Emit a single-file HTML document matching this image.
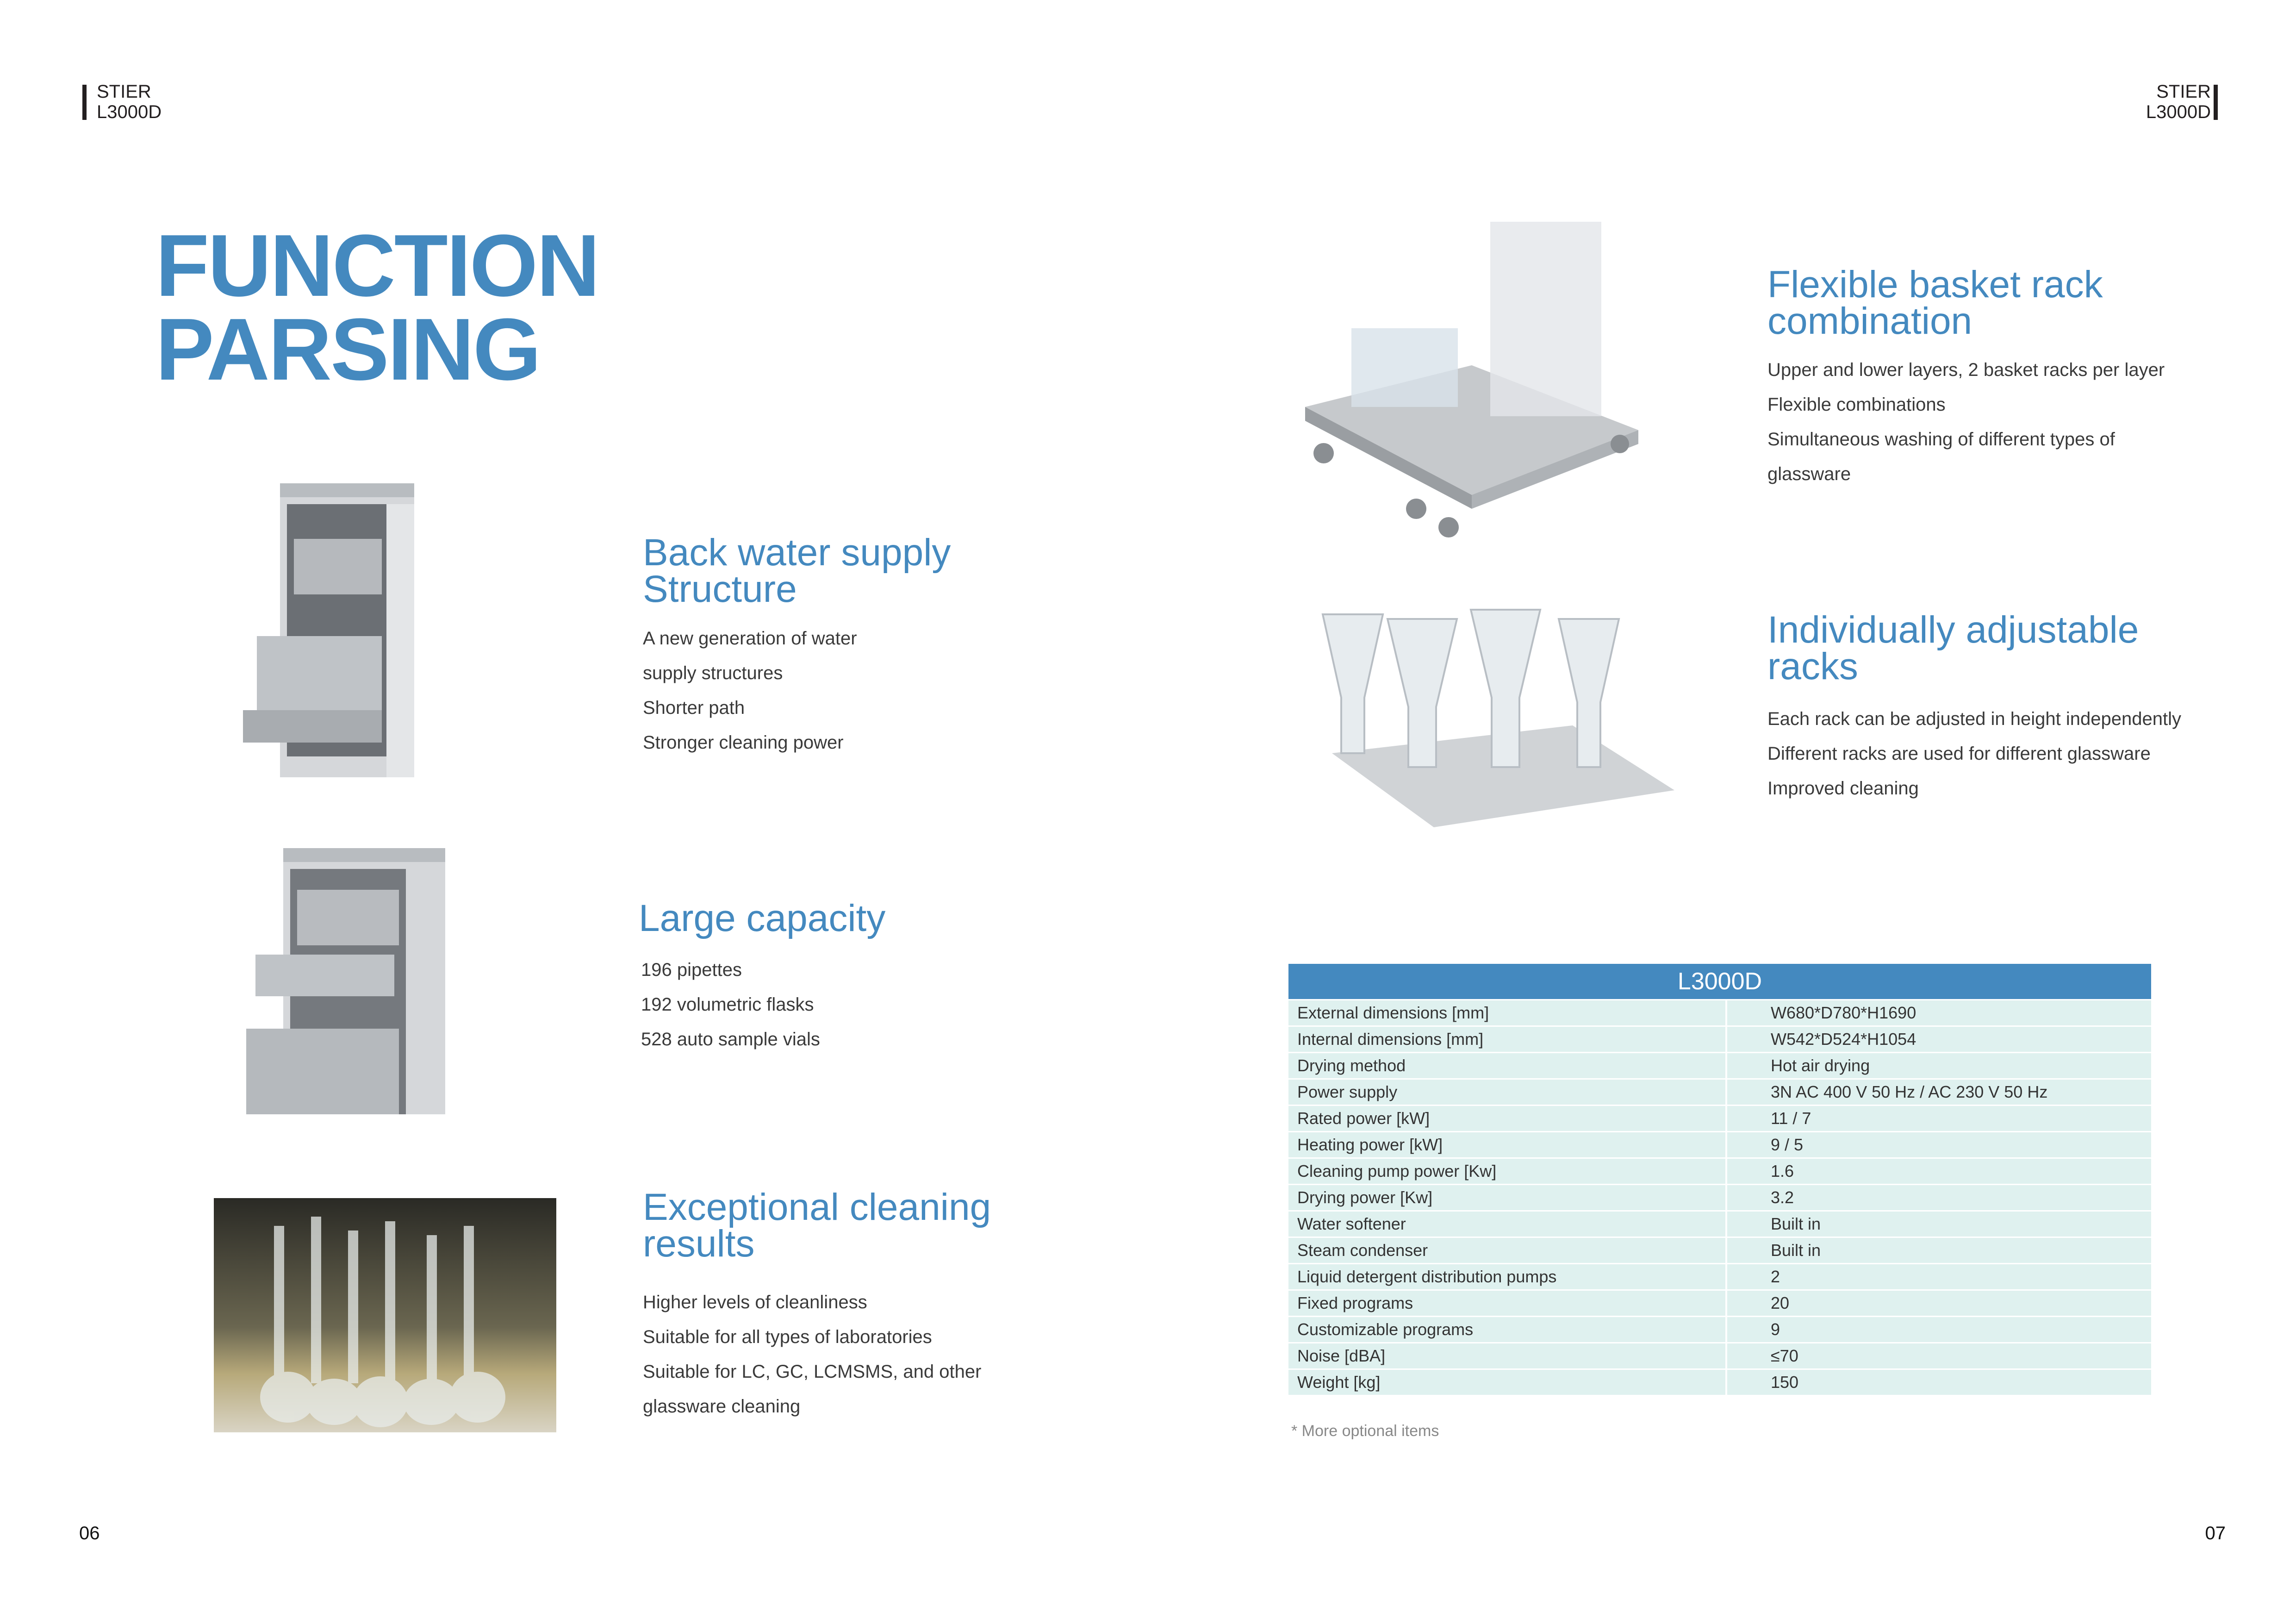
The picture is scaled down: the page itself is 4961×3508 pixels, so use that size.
<!DOCTYPE html>
<html><head><meta charset="utf-8">
<style>
html,body{margin:0;padding:0;background:#fff}
#p{position:relative;width:4961px;height:3508px;overflow:hidden;background:#fff;font-family:"Liberation Sans",sans-serif;color:#333}
.t{position:absolute;white-space:nowrap}
.h{color:#4489bf;font-size:82px;line-height:79px;letter-spacing:0px}
.b{font-size:40px;line-height:75px;color:#3a3a3a}
.big{position:absolute;left:336px;color:#4489bf;font-weight:bold;font-size:190px;line-height:180px;letter-spacing:-3px}
table{position:absolute;left:2784px;top:2082px;width:1864px;border-collapse:collapse;font-size:36px;color:#333;table-layout:fixed}
th{background:#4489bf;color:#fff;font-weight:normal;font-size:52px;height:76px;padding:0}
td{background:#dff1ef;height:54px;padding:0 0 0 19px;border-top:3.6px solid #fff}
td+td{border-left:4px solid #fff;padding-left:94px}
</style></head><body><div id="p">
<div style="position:absolute;left:178px;top:183px;width:9px;height:76px;background:#231f20"></div>
<div class="t" style="left:209px;top:176px;font-size:40px;line-height:44px;color:#231f20">STIER<br>L3000D</div>
<div style="position:absolute;left:4783px;top:183px;width:9px;height:76px;background:#231f20"></div>
<div class="t" style="right:184px;top:176px;font-size:40px;line-height:44px;color:#231f20;text-align:right">STIER<br>L3000D</div>

<div class="big" style="top:484px">FUNCTION</div>
<div class="big" style="top:665px">PARSING</div>

<svg style="position:absolute;left:525px;top:1044px" width="450" height="635" viewBox="0 0 450 635">
<rect x="80" y="0" width="290" height="635" fill="#d5d7da"/>
<rect x="80" y="0" width="290" height="30" fill="#b8bcc0"/>
<rect x="95" y="45" width="215" height="545" fill="#6b6f74"/>
<rect x="110" y="120" width="190" height="120" fill="#c9ccd0" opacity=".8"/>
<rect x="30" y="330" width="270" height="160" fill="#bfc3c7"/>
<rect x="0" y="490" width="300" height="70" fill="#a8acb0"/>
<rect x="310" y="45" width="60" height="590" fill="#e4e6e8"/>
</svg>
<svg style="position:absolute;left:532px;top:1832px" width="430" height="575" viewBox="0 0 430 575">
<rect x="80" y="0" width="350" height="575" fill="#d5d7da"/>
<rect x="80" y="0" width="350" height="30" fill="#b8bcc0"/>
<rect x="95" y="45" width="250" height="530" fill="#75797e"/>
<rect x="110" y="90" width="220" height="120" fill="#c9ccd0" opacity=".8"/>
<rect x="20" y="230" width="300" height="90" fill="#bfc3c7"/>
<rect x="0" y="390" width="330" height="185" fill="#b5b9bd"/>
</svg>
<svg style="position:absolute;left:462px;top:2588px" width="740" height="506" viewBox="0 0 740 506">
<defs><linearGradient id="g" x1="0" y1="0" x2="0" y2="1"><stop offset="0" stop-color="#2a2a25"/><stop offset=".55" stop-color="#6a6650"/><stop offset=".75" stop-color="#b7a97a"/><stop offset="1" stop-color="#d9d4c4"/></linearGradient></defs>
<rect width="740" height="506" fill="url(#g)"/>
<g fill="#e8ecea" opacity=".75">
<rect x="130" y="60" width="22" height="330"/><rect x="210" y="40" width="22" height="360"/><rect x="290" y="70" width="22" height="330"/><rect x="370" y="50" width="22" height="350"/><rect x="460" y="80" width="22" height="320"/><rect x="540" y="60" width="22" height="340"/>
<ellipse cx="160" cy="430" rx="60" ry="55"/><ellipse cx="260" cy="440" rx="60" ry="50"/><ellipse cx="360" cy="440" rx="60" ry="55"/><ellipse cx="470" cy="440" rx="60" ry="50"/><ellipse cx="570" cy="430" rx="60" ry="55"/>
</g></svg>
<svg style="position:absolute;left:2800px;top:459px" width="745" height="712" viewBox="0 0 745 712">
<polygon points="20,420 380,330 740,470 380,610" fill="#c6c9cc"/>
<polygon points="20,420 380,610 380,640 20,450" fill="#9a9ea2"/>
<polygon points="380,610 740,470 740,500 380,640" fill="#aeb2b6"/>
<rect x="420" y="20" width="240" height="420" fill="#e3e6ea" opacity=".8"/>
<rect x="120" y="250" width="230" height="170" fill="#d8e2ea" opacity=".8"/>
<circle cx="60" cy="520" r="22" fill="#8a8e92"/><circle cx="260" cy="640" r="22" fill="#8a8e92"/><circle cx="330" cy="680" r="22" fill="#8a8e92"/><circle cx="700" cy="500" r="20" fill="#8a8e92"/>
</svg>
<svg style="position:absolute;left:2838px;top:1307px" width="785" height="512" viewBox="0 0 785 512">
<polygon points="40,320 560,260 780,400 260,480" fill="#d0d3d6"/>
<g fill="#e7ecef" stroke="#b8bec4" stroke-width="4">
<path d="M20,20 h130 l-40,180 v120 h-50 v-120 z"/><path d="M160,30 h150 l-45,190 v130 h-60 v-130 z"/><path d="M340,10 h150 l-45,190 v150 h-60 v-150 z"/><path d="M530,30 h130 l-40,180 v140 h-50 v-140 z"/>
</g></svg>

<div class="t h" style="left:1389px;top:1154px">Back water supply<br>Structure</div>
<div class="t b" style="left:1389px;top:1342px">A new generation of water<br>supply structures<br>Shorter path<br>Stronger cleaning power</div>
<div class="t h" style="left:1380px;top:1944px">Large capacity</div>
<div class="t b" style="left:1385px;top:2058px">196 pipettes<br>192 volumetric flasks<br>528 auto sample vials</div>
<div class="t h" style="left:1389px;top:2568px">Exceptional cleaning<br>results</div>
<div class="t b" style="left:1389px;top:2776px">Higher levels of cleanliness<br>Suitable for all types of laboratories<br>Suitable for LC, GC, LCMSMS, and other<br>glassware cleaning</div>

<div class="t h" style="left:3819px;top:575px">Flexible basket rack<br>combination</div>
<div class="t b" style="left:3819px;top:762px">Upper and lower layers, 2 basket racks per layer<br>Flexible combinations<br>Simultaneous washing of different types of<br>glassware</div>
<div class="t h" style="left:3819px;top:1321px">Individually adjustable<br>racks</div>
<div class="t b" style="left:3819px;top:1516px">Each rack can be adjusted in height independently<br>Different racks are used for different glassware<br>Improved cleaning</div>

<table>
<colgroup><col style="width:946px"><col></colgroup>
<tr><th colspan="2">L3000D</th></tr>
<tr><td>External dimensions [mm]</td><td>W680*D780*H1690</td></tr>
<tr><td>Internal dimensions [mm]</td><td>W542*D524*H1054</td></tr>
<tr><td>Drying method</td><td>Hot air drying</td></tr>
<tr><td>Power supply</td><td>3N AC 400 V 50 Hz / AC 230 V 50 Hz</td></tr>
<tr><td>Rated power [kW]</td><td>11 / 7</td></tr>
<tr><td>Heating power [kW]</td><td>9 / 5</td></tr>
<tr><td>Cleaning pump power [Kw]</td><td>1.6</td></tr>
<tr><td>Drying power [Kw]</td><td>3.2</td></tr>
<tr><td>Water softener</td><td>Built in</td></tr>
<tr><td>Steam condenser</td><td>Built in</td></tr>
<tr><td>Liquid detergent distribution pumps</td><td>2</td></tr>
<tr><td>Fixed programs</td><td>20</td></tr>
<tr><td>Customizable programs</td><td>9</td></tr>
<tr><td>Noise [dBA]</td><td>≤70</td></tr>
<tr><td>Weight [kg]</td><td>150</td></tr>
</table>
<div class="t" style="left:2790px;top:3072px;font-size:34px;color:#888">* More optional items</div>

<div class="t" style="left:171px;top:3290px;font-size:40px;color:#111">06</div>
<div class="t" style="right:152px;top:3290px;font-size:40px;color:#111">07</div>
</div></body></html>
